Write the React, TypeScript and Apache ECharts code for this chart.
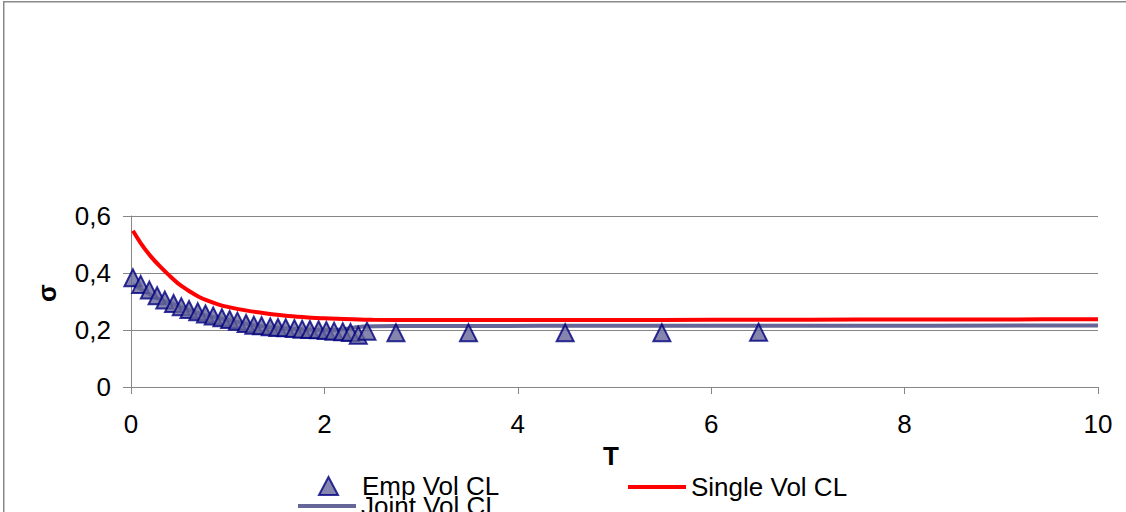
import React, { useEffect, useRef } from "react";
import * as echarts from "echarts";

// Maturities (years) and empirical volatilities of the Emp Vol CL points
const empT = [
  0.02, 0.1, 0.19, 0.27, 0.35, 0.44, 0.52, 0.6, 0.69, 0.77, 0.85, 0.94, 1.02, 1.1, 1.19,
  1.27, 1.35, 1.44, 1.52, 1.6, 1.69, 1.77, 1.85, 1.94, 2.02, 2.1, 2.19, 2.27, 2.35,
  2.44, 2.74, 3.49, 4.49, 5.49, 6.49,
];
const empVol = [
  0.383, 0.36, 0.34, 0.32, 0.305, 0.293, 0.282, 0.272, 0.264, 0.256, 0.249, 0.243, 0.237, 0.231, 0.223,
  0.217, 0.215, 0.211, 0.209, 0.208, 0.205, 0.203, 0.202, 0.201, 0.198, 0.196, 0.194, 0.191, 0.182,
  0.196, 0.19, 0.19, 0.19, 0.19, 0.192,
];

// Single-factor calibrated curve
const singleT = [
  0.02, 0.1, 0.2, 0.3, 0.4, 0.5, 0.6, 0.7, 0.8, 0.9, 1.0, 1.2, 1.4, 1.6, 1.8, 2.0, 2.2, 2.5,
  3, 4, 5, 6, 7, 8, 9, 10,
];
const singleVol = [
  0.548, 0.505, 0.46, 0.423, 0.39, 0.36, 0.337, 0.317, 0.302, 0.29, 0.281, 0.268, 0.258, 0.25, 0.245,
  0.241, 0.239, 0.236, 0.235, 0.235, 0.235, 0.236, 0.236, 0.237, 0.237, 0.238,
];

// Joint calibrated curve
const jointT = [0.02, 0.25, 0.5, 0.75, 1.0, 1.25, 1.5, 1.75, 2.0, 2.2, 2.4, 2.75, 3.5, 5, 7, 10];
const jointVol = [
  0.36, 0.315, 0.283, 0.254, 0.236, 0.218, 0.208, 0.203, 0.199, 0.203, 0.212, 0.214, 0.214, 0.215, 0.215,
  0.216,
];

const xTicks = { min: 0, max: 10, interval: 2 };
const yTicks = { min: 0, max: 0.6, interval: 0.2 };

const FONT = "'Liberation Sans', Arial, sans-serif";
const FONT_SIZE = 26;
const AXIS_GRAY = "#868686";

const pairs = (xs: number[], ys: number[]) => xs.map((x, i) => [x, ys[i]]);

export default function App() {
  const ref = useRef<HTMLDivElement>(null);

  useEffect(() => {
    if (!ref.current) return;
    const chart = echarts.init(ref.current, undefined, { renderer: "svg" });
    const legendText = { fontSize: FONT_SIZE, fontFamily: FONT, color: "#000" };
    chart.setOption({
      animation: false,
      backgroundColor: "#fff",
      textStyle: { fontFamily: FONT },
      grid: { left: 131, right: 28, top: 216, bottom: 125, containLabel: false },
      xAxis: {
        type: "value",
        ...xTicks,
        axisLine: { show: true, onZero: false, lineStyle: { color: AXIS_GRAY, width: 1 } },
        axisTick: { show: true, inside: false, length: 7, lineStyle: { color: AXIS_GRAY } },
        axisLabel: { fontSize: FONT_SIZE, color: "#000", margin: 24, fontFamily: FONT },
        splitLine: { show: false },
      },
      yAxis: {
        type: "value",
        ...yTicks,
        axisLine: { show: true, lineStyle: { color: AXIS_GRAY, width: 1 } },
        axisTick: { show: true, inside: false, length: 8, lineStyle: { color: AXIS_GRAY } },
        axisLabel: {
          fontSize: FONT_SIZE,
          color: "#000",
          margin: 20,
          fontFamily: FONT,
          formatter: (v: number) => (v === 0 ? "0" : v.toFixed(1).replace(".", ",")),
        },
        splitLine: { show: true, lineStyle: { color: AXIS_GRAY, width: 1 } },
      },
      legend: [
        {
          data: [{ name: "Emp Vol CL", icon: "triangle" }],
          left: 318,
          top: 473,
          itemWidth: 19,
          itemHeight: 18,
          textStyle: { ...legendText, padding: [0, 0, 0, 19] },
          padding: 0,
        },
        {
          data: [{ name: "Single Vol CL", icon: "rect" }],
          left: 628,
          top: 474,
          itemWidth: 58,
          itemHeight: 4,
          textStyle: legendText,
          padding: 0,
        },
        {
          data: [{ name: "Joint Vol CL", icon: "rect" }],
          left: 298,
          top: 493,
          itemWidth: 58,
          itemHeight: 4,
          textStyle: legendText,
          padding: 0,
        },
      ],
      graphic: [
        {
          type: "rect",
          shape: { x: 3.75, y: 1.75, width: 1300, height: 700 },
          style: { fill: "none", stroke: "#8a8a8a", lineWidth: 1.5 },
          silent: true,
          z: 100,
        },
        {
          type: "text",
          x: 611,
          y: 456,
          style: {
            text: "T",
            font: `bold ${FONT_SIZE}px ${FONT}`,
            fill: "#000",
            align: "center",
            verticalAlign: "middle",
          },
        },
        {
          type: "text",
          x: 47,
          y: 293,
          rotation: Math.PI / 2,
          style: {
            text: "σ",
            font: `bold ${FONT_SIZE}px ${FONT}`,
            fill: "#000",
            align: "center",
            verticalAlign: "middle",
          },
        },
      ],
      series: [
        {
          name: "Joint Vol CL",
          type: "line",
          data: pairs(jointT, jointVol),
          symbol: "none",
          smooth: 0.3,
          lineStyle: { color: "#666699", width: 4 },
          itemStyle: { color: "#666699" },
          z: 2,
        },
        {
          name: "Emp Vol CL",
          type: "scatter",
          data: pairs(empT, empVol),
          symbol: "triangle",
          symbolSize: [17, 17],
          itemStyle: { color: "#666699", borderColor: "#000080", borderWidth: 2 },
          z: 3,
        },
        {
          name: "Single Vol CL",
          type: "line",
          data: pairs(singleT, singleVol),
          symbol: "none",
          smooth: 0.3,
          lineStyle: { color: "#ff0000", width: 4 },
          itemStyle: { color: "#ff0000" },
          z: 4,
        },
      ],
    });
    return () => chart.dispose();
  }, []);

  return (
    <div
      ref={ref}
      style={{ position: "absolute", left: 0, top: 0, width: 1126, height: 512 }}
    />
  );
}
